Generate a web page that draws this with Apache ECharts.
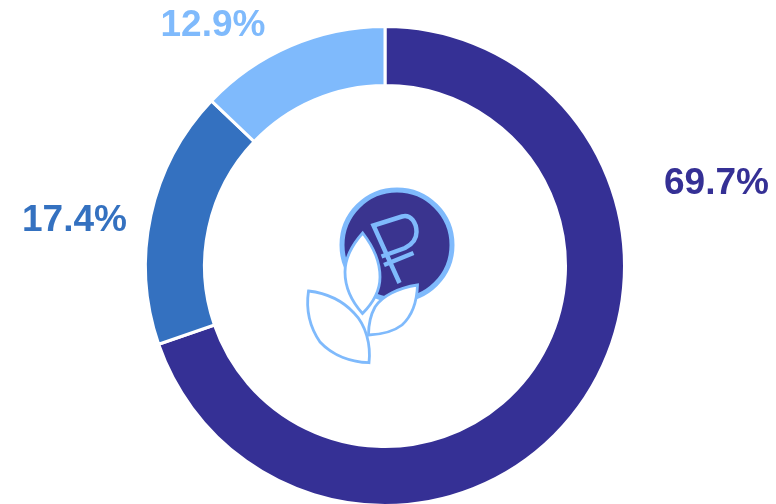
<!DOCTYPE html>
<html>
<head>
<meta charset="utf-8">
<style>html,body{margin:0;padding:0;background:#fff}#c{width:776px;height:504px}</style>
<script src="https://cdn.jsdelivr.net/npm/echarts@6/dist/echarts.min.js"></script>
</head>
<body>
<div id="c"></div>
<script>
const categories = ['A', 'B', 'C'];
const values = [69.7, 17.4, 12.9];
const labels = ['69.7%', '17.4%', '12.9%'];
const colors = ['#353095', '#3471c0', '#7fbafc'];
const labelSpots = [[716.5, 184], [74.5, 221], [213, 26]];
const LINE = '#7fbafc';
const iconPaths = {
  ruble: 'M399.5 283 L373.5 225.5 L402 216.5 C411 214 416.5 223 416.5 232 C416.5 240 411 245 405 248 L381.5 256.5 M384 265 L413.5 253',
  leafMid: 'M362.7 233 C352 245 345 258 345 272 C345 290 354 304 362.5 313.5 C372 304 380 292 380 277 C380 260 372 245 362.7 233 Z',
  leafRight: 'M417.5 285 C398 288 382 296 375 307 C370 316 368.5 326 368.5 335 C380 334.5 393 332 402 325 C413 315 417 300 417.5 285 Z',
  leafLeft: 'M308.5 291 C306 308 309 326 320 342 C333 356 352 362 369 362.7 C371 345 366 325 354 313 C342 300 325 293 308.5 291 Z'
};
const shapeOf = (d) => echarts.graphic.extendPath(d);
Object.keys(iconPaths).forEach((k) => {
  echarts.graphic.registerShape(k, shapeOf(iconPaths[k]));
});
const chart = echarts.init(document.getElementById('c'), null, {renderer: 'canvas'});
chart.setOption({
  animation: false,
  backgroundColor: '#fff',
  series: [{
    type: 'pie',
    center: [385, 266],
    radius: [180.5, 239.5],
    startAngle: 90,
    clockwise: true,
    itemStyle: {borderColor: '#fff', borderWidth: 3},
    label: {show: true, position: 'outside', overflow: 'none', fontFamily: 'Liberation Sans', fontWeight: 'bold', fontSize: 37},
    labelLine: {show: false},
    labelLayout: (p) => ({x: labelSpots[p.dataIndex][0], y: labelSpots[p.dataIndex][1], align: 'center', verticalAlign: 'middle'}),
    data: categories.map((n, i) => ({
      name: n, value: values[i],
      itemStyle: {color: colors[i]},
      label: {formatter: labels[i], color: colors[i]}
    }))
  }],
  graphic: [
    {type: 'circle', shape: {cx: 397, cy: 245, r: 55}, style: {fill: '#3a348f', stroke: LINE, lineWidth: 5}},
    {type: 'ruble', style: {fill: 'none', stroke: LINE, lineWidth: 4.5}},
    {type: 'leafMid', style: {fill: '#fff', stroke: LINE, lineWidth: 2.8}},
    {type: 'leafRight', style: {fill: '#fff', stroke: LINE, lineWidth: 2.8}},
    {type: 'leafLeft', style: {fill: '#fff', stroke: LINE, lineWidth: 2.8}}
  ]
});
</script>
</body>
</html>
